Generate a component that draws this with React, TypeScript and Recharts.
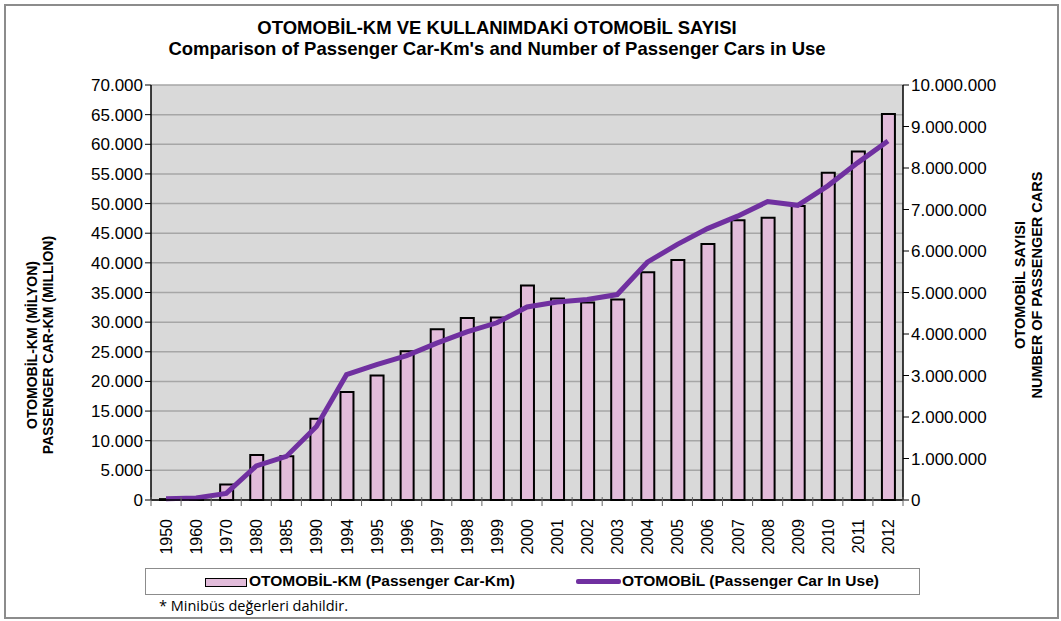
import React from "react";
import {
  Bar,
  ComposedChart,
  CartesianGrid,
  Line,
  XAxis,
  YAxis,
} from "recharts";

const years = [
  "1950", "1960", "1970", "1980", "1985", "1990", "1994", "1995", "1996",
  "1997", "1998", "1999", "2000", "2001", "2002", "2003", "2004", "2005",
  "2006", "2007", "2008", "2009", "2010", "2011", "2012",
];

// otomobil-km, million
const carKm = [
  150, 300, 2600, 7600, 7400, 13700, 18200, 21000, 25100, 28800, 30700,
  30800, 36200, 34000, 33300, 33800, 38400, 40500, 43200, 47200, 47600,
  49600, 55200, 58800, 65100,
];

// cars in use
const carsInUse = [
  30000, 50000, 160000, 820000, 1050000, 1770000, 3020000, 3260000,
  3480000, 3780000, 4050000, 4270000, 4650000, 4770000, 4830000, 4950000,
  5730000, 6160000, 6540000, 6840000, 7190000, 7100000, 7570000, 8130000,
  8650000,
];

const leftTicks = [
  0, 5000, 10000, 15000, 20000, 25000, 30000, 35000, 40000, 45000, 50000,
  55000, 60000, 65000, 70000,
];
const rightTicks = [
  0, 1000000, 2000000, 3000000, 4000000, 5000000, 6000000, 7000000,
  8000000, 9000000, 10000000,
];

const data = years.map((y, i) => ({
  year: y,
  km: carKm[i],
  cars: carsInUse[i],
}));

const fmt = (v: number) =>
  String(v).replace(/\B(?=(\d{3})+(?!\d))/g, ".");

const FONT = "'Liberation Sans', Arial, sans-serif";
const X_TICK_SIZE = 6;
const X_TICK_MARGIN = 2;

// year label + excel-style tick marks on the category boundaries
const YearTick = (props: any) => {
  const { x, y, payload, index } = props;
  const half = payload.offset || 0;
  const axisY = y - X_TICK_SIZE - X_TICK_MARGIN;
  return (
    <g>
      <line
        x1={x - half}
        x2={x - half}
        y1={axisY - 3}
        y2={axisY + 6}
        stroke="#666"
      />
      {index === years.length - 1 && (
        <line
          x1={x + half}
          x2={x + half}
          y1={axisY - 3}
          y2={axisY + 6}
          stroke="#666"
        />
      )}
      <text
        x={x}
        y={y}
        transform={`rotate(-90, ${x}, ${y})`}
        dx={-11}
        dy={6}
        textAnchor="end"
        fontSize={16}
        fontFamily={FONT}
        fill="#000"
      >
        {payload.value}
      </text>
    </g>
  );
};

const App = () => {
  return (
    <div
      style={{
        position: "absolute",
        left: 0,
        top: 0,
        width: 1061,
        height: 621,
        background: "#fff",
        fontFamily: FONT,
        overflow: "hidden",
      }}
    >
      <div style={{ position: "absolute", left: 0, top: 0 }}>
        <ComposedChart
          width={1061}
          height={621}
          data={data}
          margin={{ top: 85, right: 58, bottom: 61, left: 71 }}
          barCategoryGap={0}
        >
          <CartesianGrid
            vertical={false}
            stroke="#a6a6a6"
            strokeWidth={1.5}
            fill="#d9d9d9"
            yAxisId="left"
          />
          <XAxis
            dataKey="year"
            height={60}
            interval={0}
            tick={<YearTick />}
            tickLine={false}
            tickSize={X_TICK_SIZE}
            tickMargin={X_TICK_MARGIN}
            axisLine={{ stroke: "#000", strokeWidth: 1.5 }}
          />
          <YAxis
            yAxisId="left"
            width={80}
            domain={[0, 70000]}
            ticks={leftTicks}
            interval={0}
            tickFormatter={fmt}
            tick={{ fill: "#000", fontSize: 17, fontFamily: FONT }}
            tickSize={6}
            tickLine={{ stroke: "#000" }}
            axisLine={{ stroke: "#000", strokeWidth: 1.5 }}
          />
          <YAxis
            yAxisId="right"
            orientation="right"
            width={100}
            domain={[0, 10000000]}
            ticks={rightTicks}
            interval={0}
            tickFormatter={fmt}
            tick={{ fill: "#000", fontSize: 17, fontFamily: FONT }}
            tickSize={6}
            tickLine={{ stroke: "#000" }}
            axisLine={{ stroke: "#000", strokeWidth: 1.5 }}
          />
          <Bar
            yAxisId="left"
            dataKey="km"
            fill="#e2bcda"
            stroke="#000"
            strokeWidth={2}
            barSize={13}
            isAnimationActive={false}
          />
          <Line
            yAxisId="right"
            dataKey="cars"
            type="linear"
            stroke="#7030a0"
            strokeWidth={5}
            dot={false}
            isAnimationActive={false}
          />
        </ComposedChart>
      </div>

      {/* outer frame */}
      <div
        style={{
          position: "absolute",
          left: 4,
          top: 4,
          width: 1051,
          height: 611,
          border: "2px solid #8c8c8c",
          pointerEvents: "none",
        }}
      />

      <div
        style={{
          position: "absolute",
          left: 0,
          top: 17,
          width: 994,
          textAlign: "center",
          fontWeight: "bold",
          fontSize: 18.5,
          lineHeight: "21px",
          color: "#000",
        }}
      >
        <div>OTOMOBİL-KM VE KULLANIMDAKİ OTOMOBİL SAYISI</div>
        <div>Comparison of Passenger Car-Km's and Number of Passenger Cars in Use</div>
      </div>

      {/* left axis title */}
      <div
        style={{
          position: "absolute",
          left: 40,
          top: 345,
          transform: "translate(-50%, -50%) rotate(-90deg)",
          whiteSpace: "nowrap",
          textAlign: "center",
          fontWeight: "bold",
          fontSize: 14,
          lineHeight: "16px",
        }}
      >
        <div>OTOMOBİL-KM (MİLYON)</div>
        <div>PASSENGER CAR-KM (MILLION)</div>
      </div>

      {/* right axis title */}
      <div
        style={{
          position: "absolute",
          left: 1029,
          top: 285,
          transform: "translate(-50%, -50%) rotate(-90deg)",
          whiteSpace: "nowrap",
          textAlign: "center",
          fontWeight: "bold",
          fontSize: 14.5,
          lineHeight: "17px",
        }}
      >
        <div>OTOMOBİL SAYISI</div>
        <div>NUMBER OF PASSENGER CARS</div>
      </div>

      {/* legend */}
      <div
        style={{
          position: "absolute",
          left: 145,
          top: 568,
          width: 775,
          height: 27,
          border: "1px solid #8c8c8c",
          boxSizing: "border-box",
          fontWeight: "bold",
          fontSize: 15.5,
        }}
      >
        <div
          style={{
            position: "absolute",
            left: 59,
            top: 9,
            width: 40,
            height: 7,
            background: "#e2bcda",
            border: "1px solid #000",
          }}
        />
        <div style={{ position: "absolute", left: 103, top: 3 }}>
          OTOMOBİL-KM (Passenger Car-Km)
        </div>
        <div
          style={{
            position: "absolute",
            left: 430,
            top: 10,
            width: 45,
            height: 5,
            background: "#7030a0",
            borderRadius: 2,
          }}
        />
        <div style={{ position: "absolute", left: 476, top: 3 }}>
          OTOMOBİL (Passenger Car In Use)
        </div>
      </div>

      <div
        style={{
          position: "absolute",
          left: 159,
          top: 596,
          fontSize: 14.5,
          fontFamily: "'Open Sans', sans-serif",
        }}
      >
        * Minibüs değerleri dahildir.
      </div>
    </div>
  );
};

export default App;
